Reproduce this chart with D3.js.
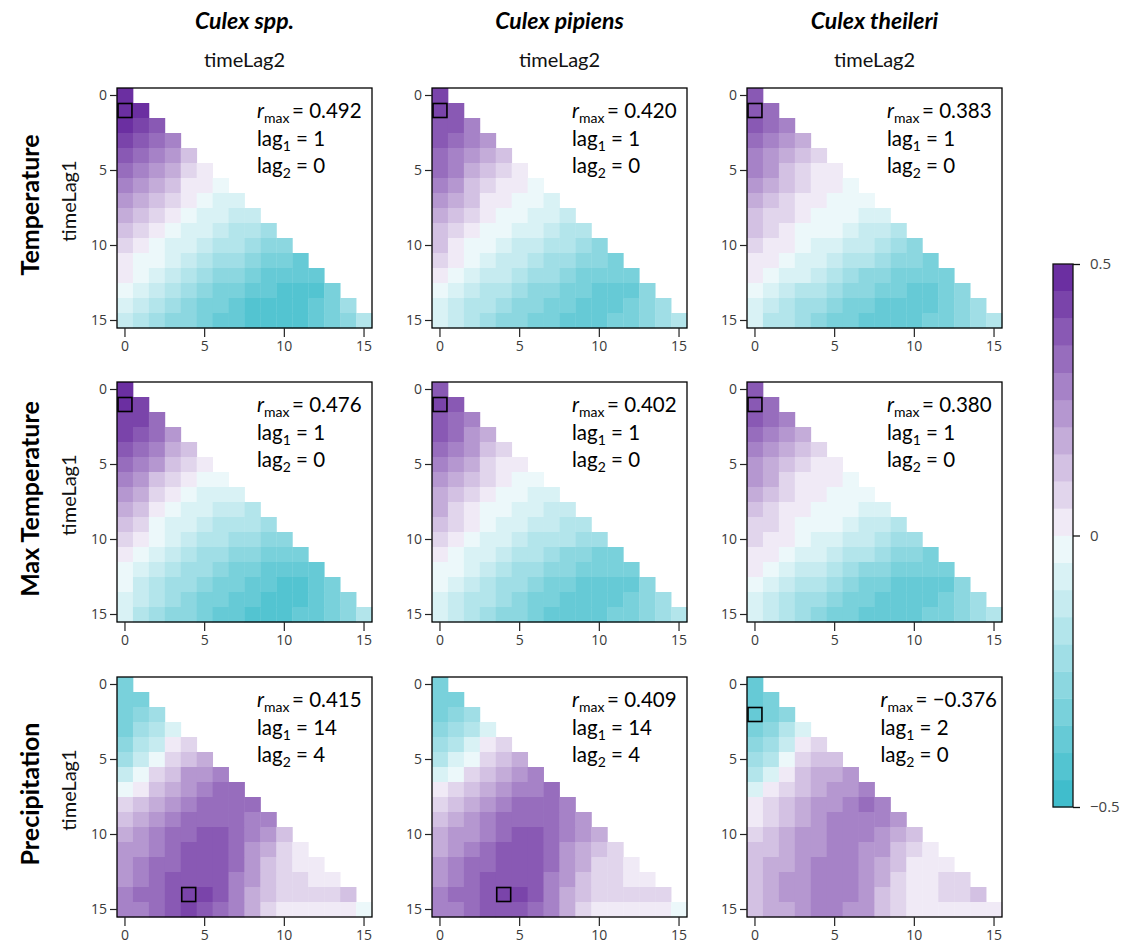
<!DOCTYPE html>
<html><head><meta charset="utf-8">
<script src="https://cdn.jsdelivr.net/npm/d3@7"></script>
<style>body{margin:0;background:#fff}svg{display:block}</style>
</head><body><svg id="c" width="1126" height="949"></svg>
<script>
const species = ["Culex spp.", "Culex pipiens", "Culex theileri"];
const variables = ["Temperature", "Max Temperature", "Precipitation"];
const lagTicks = [0, 5, 10, 15];
const cbarTicks = [0.5, 0, -0.5];
const cbarTickLabels = ["0.5", "0", "\u22120.5"];
const rmaxLabels = [["0.492","0.420","0.383"],["0.476","0.402","0.380"],["0.415","0.409","\u22120.376"]];
const lag1Best = [[1,1,1],[1,1,1],[14,14,2]];
const lag2Best = [[0,0,0],[0,0,0],[4,4,0]];

const tempSpp = [
[0.47],
[0.49,0.45],
[0.45,0.42,0.35],
[0.42,0.38,0.32,0.25],
[0.38,0.33,0.27,0.20,0.12],
[0.33,0.28,0.22,0.15,0.08,0.03],
[0.28,0.22,0.17,0.10,0.04,0.00,-0.03],
[0.22,0.17,0.12,0.05,0.00,-0.03,-0.06,-0.10],
[0.17,0.12,0.07,0.00,-0.04,-0.07,-0.10,-0.12,-0.15],
[0.12,0.08,0.03,-0.03,-0.07,-0.10,-0.13,-0.17,-0.20,-0.23],
[0.08,0.03,-0.01,-0.06,-0.10,-0.14,-0.17,-0.20,-0.24,-0.27,-0.30],
[0.04,-0.01,-0.05,-0.10,-0.14,-0.18,-0.22,-0.25,-0.28,-0.31,-0.33,-0.36],
[0.00,-0.05,-0.10,-0.14,-0.18,-0.22,-0.26,-0.30,-0.33,-0.36,-0.38,-0.40,-0.40],
[-0.05,-0.10,-0.14,-0.19,-0.23,-0.27,-0.31,-0.34,-0.37,-0.40,-0.41,-0.42,-0.41,-0.35],
[-0.10,-0.15,-0.19,-0.23,-0.27,-0.31,-0.35,-0.38,-0.41,-0.43,-0.43,-0.42,-0.40,-0.33,-0.25],
[-0.12,-0.18,-0.22,-0.26,-0.30,-0.34,-0.37,-0.40,-0.42,-0.44,-0.43,-0.41,-0.37,-0.32,-0.28,-0.20]];

const tempPip = [
[0.40],
[0.42,0.38],
[0.39,0.35,0.28],
[0.36,0.31,0.25,0.20],
[0.33,0.28,0.22,0.15,0.10],
[0.30,0.25,0.18,0.12,0.06,0.02],
[0.26,0.20,0.14,0.08,0.03,0.00,-0.02],
[0.22,0.16,0.10,0.04,0.00,-0.02,-0.04,-0.06],
[0.18,0.12,0.06,0.01,-0.02,-0.05,-0.07,-0.09,-0.12],
[0.14,0.08,0.02,-0.02,-0.05,-0.08,-0.10,-0.13,-0.16,-0.20],
[0.10,0.04,-0.01,-0.05,-0.08,-0.11,-0.14,-0.17,-0.20,-0.24,-0.27],
[0.05,0.00,-0.04,-0.08,-0.11,-0.14,-0.18,-0.21,-0.24,-0.28,-0.30,-0.32],
[0.01,-0.04,-0.08,-0.12,-0.15,-0.18,-0.22,-0.25,-0.28,-0.31,-0.33,-0.35,-0.35],
[-0.04,-0.08,-0.12,-0.16,-0.20,-0.23,-0.26,-0.29,-0.32,-0.35,-0.36,-0.37,-0.36,-0.30],
[-0.08,-0.12,-0.16,-0.20,-0.24,-0.27,-0.30,-0.33,-0.35,-0.37,-0.38,-0.37,-0.34,-0.28,-0.22],
[-0.10,-0.15,-0.19,-0.23,-0.27,-0.30,-0.33,-0.35,-0.37,-0.38,-0.37,-0.35,-0.32,-0.27,-0.22,-0.18]];

const tempThe = [
[0.37],
[0.38,0.34],
[0.35,0.31,0.26],
[0.32,0.28,0.22,0.16],
[0.29,0.24,0.18,0.12,0.07],
[0.26,0.20,0.14,0.08,0.04,0.02],
[0.22,0.16,0.10,0.05,0.02,0.00,-0.01],
[0.18,0.12,0.07,0.03,0.00,-0.01,-0.03,-0.05],
[0.14,0.09,0.05,0.01,-0.01,-0.03,-0.05,-0.07,-0.10],
[0.10,0.06,0.02,-0.01,-0.03,-0.05,-0.08,-0.11,-0.14,-0.18],
[0.07,0.03,0.00,-0.03,-0.06,-0.09,-0.12,-0.15,-0.19,-0.23,-0.26],
[0.04,0.01,-0.03,-0.06,-0.10,-0.13,-0.17,-0.20,-0.24,-0.28,-0.30,-0.32],
[0.00,-0.03,-0.07,-0.10,-0.14,-0.18,-0.22,-0.26,-0.29,-0.32,-0.34,-0.35,-0.35],
[-0.04,-0.08,-0.12,-0.16,-0.20,-0.24,-0.27,-0.30,-0.33,-0.35,-0.36,-0.36,-0.35,-0.30],
[-0.08,-0.13,-0.17,-0.21,-0.25,-0.28,-0.31,-0.34,-0.36,-0.37,-0.37,-0.36,-0.34,-0.28,-0.22],
[-0.10,-0.16,-0.20,-0.24,-0.28,-0.31,-0.34,-0.36,-0.37,-0.38,-0.37,-0.35,-0.32,-0.27,-0.22,-0.18]];

const maxSpp = [
[0.46],
[0.48,0.44],
[0.44,0.40,0.33],
[0.41,0.36,0.30,0.23],
[0.37,0.32,0.25,0.17,0.10],
[0.32,0.26,0.20,0.12,0.05,0.00],
[0.27,0.21,0.14,0.07,0.01,-0.03,-0.05],
[0.22,0.15,0.08,0.02,-0.03,-0.06,-0.08,-0.10],
[0.17,0.10,0.03,-0.02,-0.06,-0.09,-0.12,-0.14,-0.16],
[0.12,0.05,-0.01,-0.06,-0.10,-0.13,-0.16,-0.18,-0.20,-0.22],
[0.07,0.01,-0.05,-0.10,-0.14,-0.17,-0.20,-0.23,-0.25,-0.27,-0.28],
[0.03,-0.03,-0.09,-0.14,-0.18,-0.21,-0.24,-0.27,-0.30,-0.32,-0.34,-0.34],
[-0.01,-0.07,-0.13,-0.18,-0.22,-0.25,-0.28,-0.31,-0.34,-0.36,-0.38,-0.38,-0.37],
[-0.05,-0.11,-0.16,-0.21,-0.25,-0.29,-0.32,-0.35,-0.38,-0.40,-0.41,-0.41,-0.40,-0.34],
[-0.08,-0.14,-0.19,-0.24,-0.28,-0.32,-0.35,-0.38,-0.40,-0.42,-0.42,-0.41,-0.38,-0.32,-0.26],
[-0.10,-0.16,-0.21,-0.26,-0.30,-0.34,-0.37,-0.40,-0.42,-0.43,-0.42,-0.40,-0.36,-0.31,-0.26,-0.20]];

const maxPip = [
[0.39],
[0.40,0.37],
[0.38,0.34,0.28],
[0.35,0.30,0.24,0.18],
[0.31,0.26,0.20,0.13,0.07],
[0.27,0.22,0.16,0.09,0.03,0.00],
[0.23,0.17,0.11,0.05,0.00,-0.02,-0.03],
[0.19,0.13,0.07,0.02,-0.02,-0.04,-0.06,-0.07],
[0.15,0.09,0.03,-0.01,-0.04,-0.07,-0.09,-0.11,-0.12],
[0.11,0.05,0.00,-0.04,-0.07,-0.10,-0.12,-0.14,-0.16,-0.18],
[0.07,0.02,-0.03,-0.07,-0.10,-0.13,-0.16,-0.18,-0.20,-0.23,-0.25],
[0.03,-0.02,-0.06,-0.10,-0.14,-0.17,-0.20,-0.23,-0.26,-0.29,-0.31,-0.31],
[-0.01,-0.05,-0.10,-0.14,-0.18,-0.21,-0.24,-0.27,-0.30,-0.33,-0.35,-0.35,-0.33],
[-0.04,-0.09,-0.13,-0.17,-0.21,-0.25,-0.28,-0.31,-0.34,-0.36,-0.37,-0.37,-0.36,-0.30],
[-0.07,-0.12,-0.16,-0.20,-0.24,-0.28,-0.31,-0.34,-0.36,-0.38,-0.38,-0.37,-0.34,-0.28,-0.22],
[-0.09,-0.14,-0.19,-0.23,-0.27,-0.30,-0.33,-0.36,-0.37,-0.38,-0.37,-0.35,-0.32,-0.26,-0.22,-0.18]];

const maxThe = [
[0.37],
[0.38,0.34],
[0.35,0.31,0.25],
[0.32,0.27,0.21,0.15],
[0.28,0.23,0.17,0.11,0.06],
[0.24,0.19,0.13,0.07,0.03,0.02],
[0.20,0.15,0.09,0.04,0.01,0.00,-0.01],
[0.16,0.11,0.06,0.02,0.00,-0.01,-0.02,-0.04],
[0.12,0.08,0.04,0.01,-0.01,-0.03,-0.05,-0.07,-0.09],
[0.09,0.05,0.02,-0.01,-0.03,-0.05,-0.08,-0.11,-0.14,-0.17],
[0.06,0.03,0.00,-0.03,-0.06,-0.09,-0.12,-0.15,-0.18,-0.22,-0.25],
[0.03,0.00,-0.03,-0.06,-0.10,-0.13,-0.17,-0.20,-0.24,-0.27,-0.30,-0.31],
[0.00,-0.03,-0.07,-0.11,-0.15,-0.19,-0.22,-0.26,-0.29,-0.32,-0.34,-0.35,-0.34],
[-0.03,-0.07,-0.12,-0.16,-0.20,-0.24,-0.28,-0.31,-0.34,-0.36,-0.37,-0.37,-0.36,-0.30],
[-0.07,-0.12,-0.17,-0.21,-0.25,-0.29,-0.32,-0.35,-0.37,-0.38,-0.38,-0.37,-0.35,-0.29,-0.22],
[-0.09,-0.15,-0.20,-0.24,-0.28,-0.32,-0.35,-0.37,-0.38,-0.38,-0.37,-0.35,-0.32,-0.27,-0.22,-0.18]];

const precSpp = [
[-0.35],
[-0.35,-0.32],
[-0.35,-0.30,-0.25],
[-0.32,-0.25,-0.18,-0.06],
[-0.28,-0.20,-0.12,0.00,0.06],
[-0.22,-0.14,-0.03,0.08,0.14,0.18],
[-0.12,-0.05,0.06,0.14,0.20,0.24,0.26],
[-0.02,0.04,0.12,0.19,0.24,0.28,0.30,0.32],
[0.05,0.10,0.17,0.23,0.28,0.31,0.33,0.33,0.30],
[0.12,0.16,0.21,0.27,0.31,0.34,0.34,0.33,0.28,0.25],
[0.17,0.20,0.25,0.30,0.33,0.36,0.35,0.32,0.27,0.20,0.14],
[0.20,0.23,0.28,0.32,0.35,0.37,0.35,0.30,0.24,0.17,0.08,0.03],
[0.22,0.26,0.30,0.34,0.37,0.38,0.35,0.30,0.22,0.14,0.07,0.04,0.02],
[0.24,0.28,0.32,0.36,0.39,0.39,0.36,0.29,0.20,0.12,0.06,0.05,0.04,0.03],
[0.26,0.30,0.34,0.38,0.415,0.40,0.36,0.28,0.19,0.10,0.05,0.06,0.06,0.07,0.10],
[0.25,0.29,0.33,0.37,0.40,0.39,0.34,0.26,0.16,0.08,0.03,0.02,0.01,0.01,0.00,-0.01]];

const precPip = [
[-0.33],
[-0.34,-0.32],
[-0.34,-0.30,-0.24],
[-0.30,-0.24,-0.16,-0.06],
[-0.25,-0.18,-0.10,0.00,0.06],
[-0.18,-0.10,-0.02,0.07,0.13,0.18],
[-0.08,-0.02,0.06,0.13,0.19,0.23,0.25],
[0.00,0.05,0.12,0.18,0.23,0.27,0.29,0.30],
[0.06,0.11,0.17,0.22,0.27,0.30,0.32,0.32,0.29],
[0.11,0.16,0.21,0.26,0.30,0.33,0.34,0.33,0.28,0.24],
[0.16,0.20,0.24,0.29,0.33,0.35,0.35,0.32,0.27,0.20,0.15],
[0.19,0.23,0.27,0.31,0.35,0.37,0.35,0.30,0.24,0.17,0.10,0.06],
[0.22,0.26,0.30,0.33,0.37,0.38,0.36,0.30,0.22,0.15,0.08,0.06,0.04],
[0.24,0.28,0.32,0.36,0.39,0.39,0.36,0.29,0.20,0.12,0.07,0.05,0.04,0.03],
[0.26,0.30,0.34,0.38,0.409,0.40,0.36,0.28,0.19,0.11,0.06,0.05,0.05,0.06,0.07],
[0.25,0.29,0.33,0.37,0.39,0.39,0.34,0.26,0.16,0.08,0.04,0.02,0.01,0.01,0.00,-0.03]];

const precThe = [
[-0.36],
[-0.36,-0.33],
[-0.376,-0.32,-0.28],
[-0.34,-0.28,-0.20,-0.08],
[-0.30,-0.22,-0.12,0.02,0.08],
[-0.25,-0.16,-0.05,0.06,0.12,0.14],
[-0.16,-0.08,0.02,0.10,0.15,0.18,0.20],
[-0.06,0.00,0.07,0.14,0.18,0.21,0.24,0.28],
[0.00,0.05,0.11,0.16,0.20,0.23,0.26,0.30,0.27],
[0.04,0.09,0.14,0.18,0.22,0.25,0.27,0.28,0.26,0.22],
[0.08,0.12,0.16,0.20,0.23,0.26,0.27,0.26,0.23,0.18,0.12],
[0.10,0.14,0.18,0.21,0.24,0.26,0.26,0.24,0.20,0.14,0.06,0.02],
[0.12,0.15,0.19,0.22,0.25,0.26,0.26,0.23,0.18,0.11,0.04,0.02,0.04],
[0.13,0.17,0.20,0.23,0.25,0.26,0.25,0.22,0.16,0.09,0.03,0.03,0.06,0.05],
[0.14,0.18,0.21,0.24,0.26,0.27,0.25,0.21,0.14,0.07,0.02,0.03,0.06,0.09,0.12],
[0.12,0.16,0.19,0.22,0.25,0.26,0.24,0.20,0.13,0.06,0.01,0.00,0.01,0.02,0.03,0.04]];

const panels = [[tempSpp,tempPip,tempThe],[maxSpp,maxPip,maxThe],[precSpp,precPip,precThe]];

// ---------- layout ----------
const FONT = "Lato, 'Open Sans', sans-serif";
const TICKFONT = "'Open Sans', sans-serif";
const frameX = [117, 432, 747], frameY = [88, 382, 677];
const PW = 255, PH = 240;
const svg = d3.select("#c");

const purple = "#6b2fa1", teal = "#40bdcc";
const binColors = d3.range(20).map(k => k >= 10
  ? d3.interpolateRgb("#ffffff", purple)((k - 9) / 10)
  : d3.interpolateRgb("#ffffff", teal)((10 - k) / 10));
const color = d3.scaleQuantize().domain([-0.5, 0.5]).range(binColors);

const x = d3.scaleBand().domain(d3.range(16)).range([0, PW]);
const y = d3.scaleBand().domain(d3.range(16)).range([0, PH]);

// column titles
species.forEach((s, c) => {
  const cx = frameX[c] + PW / 2;
  svg.append("text").attr("x", cx).attr("y", 29).attr("text-anchor", "middle")
    .attr("font-family", FONT).attr("font-size", 23).attr("font-weight", "bold")
    .attr("font-style", "italic").attr("fill", "#000").text(s);
  svg.append("text").attr("x", cx).attr("y", 67).attr("text-anchor", "middle")
    .attr("font-family", FONT).attr("font-size", 20).attr("fill", "#111").text("timeLag2");
});

// row labels
variables.forEach((v, r) => {
  const cy = frameY[r] + PH / 2 - 3;
  svg.append("text").attr("transform", `translate(39,${cy}) rotate(-90)`)
    .attr("text-anchor", "middle").attr("font-family", FONT).attr("font-size", 25)
    .attr("font-weight", "bold").attr("fill", "#000").text(v);
  svg.append("text").attr("transform", `translate(76,${cy - 4}) rotate(-90)`)
    .attr("text-anchor", "middle").attr("font-family", FONT).attr("font-size", 20)
    .attr("fill", "#111").text("timeLag1");
});

panels.forEach((row, r) => row.forEach((mat, c) => {
  const g = svg.append("g").attr("transform", `translate(${frameX[c]},${frameY[r]})`);
  const cells = [];
  mat.forEach((vals, i) => vals.forEach((v, j) => cells.push({ i, j, v })));
  g.selectAll("rect.cell").data(cells).join("rect").attr("class", "cell")
    .attr("x", d => x(d.j)).attr("y", d => y(d.i))
    .attr("width", x.bandwidth() + 0.4).attr("height", y.bandwidth() + 0.4)
    .attr("fill", d => color(d.v));
  // marker
  const li = lag1Best[r][c], lj = lag2Best[r][c];
  g.append("rect").attr("x", x(lj) + 1).attr("y", y(li) + 0.5)
    .attr("width", x.bandwidth() - 2).attr("height", y.bandwidth() - 1)
    .attr("fill", "none").attr("stroke", "#000").attr("stroke-width", 1.6);
  // frame
  g.append("rect").attr("width", PW).attr("height", PH).attr("fill", "none")
    .attr("stroke", "#000").attr("stroke-width", 1.3);
  // axes
  const ya = g.append("g").call(d3.axisLeft(y).tickValues(lagTicks).tickSize(7).tickPadding(3));
  const xa = g.append("g").attr("transform", `translate(0,${PH})`)
    .call(d3.axisBottom(x).tickValues(lagTicks).tickSize(9).tickPadding(4));
  [ya, xa].forEach(a => {
    a.select(".domain").remove();
    a.selectAll("line").attr("stroke", "#222").attr("stroke-width", 1.2);
    a.selectAll("text").attr("font-family", TICKFONT).attr("font-size", 14).attr("fill", "#3a3a3a");
  });
  // annotation
  const ann = g.append("g").attr("font-family", FONT).attr("font-size", 20.5).attr("fill", "#000");
  const t1 = ann.append("text").attr("y", 30);
  t1.append("tspan").attr("font-style", "italic").text("r");
  t1.append("tspan").attr("font-size", 14).attr("dy", 5).text("max");
  t1.append("tspan").attr("dy", -5).text("\u2009= " + rmaxLabels[r][c]);
  const w = t1.node().getComputedTextLength();
  const ax = Math.min(140, PW - 5 - w);
  t1.attr("x", ax);
  [[li, "1", 58], [lj, "2", 85]].forEach(([val, sub, yy]) => {
    const t = ann.append("text").attr("x", ax).attr("y", yy);
    t.append("tspan").text("lag");
    t.append("tspan").attr("font-size", 14).attr("dy", 5).text(sub);
    t.append("tspan").attr("dy", -5).text(" = " + val);
  });
}));

// colorbar
const cbX = 1053, cbW = 20, cbTop = 264, cbBot = 807;
const cy = d3.scaleLinear().domain([0.5, -0.5]).range([cbTop, cbBot]);
const cb = svg.append("g");
cb.selectAll("rect.bin").data(binColors).join("rect").attr("class", "bin")
  .attr("x", cbX).attr("width", cbW)
  .attr("y", (d, k) => cy(-0.5 + (k + 1) * 0.05))
  .attr("height", (d, k) => cy(-0.5 + k * 0.05) - cy(-0.5 + (k + 1) * 0.05) + 0.4)
  .attr("fill", d => d);
cb.append("rect").attr("x", cbX).attr("y", cbTop).attr("width", cbW).attr("height", cbBot - cbTop)
  .attr("fill", "none").attr("stroke", "#111").attr("stroke-width", 1.3);
const cax = cb.append("g").attr("transform", `translate(${cbX + cbW},0)`)
  .call(d3.axisRight(cy).tickValues(cbarTicks).tickSize(7).tickPadding(10)
    .tickFormat((d, i) => cbarTickLabels[i]));
cax.select(".domain").remove();
cax.selectAll("line").attr("stroke", "#111").attr("stroke-width", 1.3);
cax.selectAll("text").attr("font-family", TICKFONT).attr("font-size", 15).attr("fill", "#444");
</script></body></html>
